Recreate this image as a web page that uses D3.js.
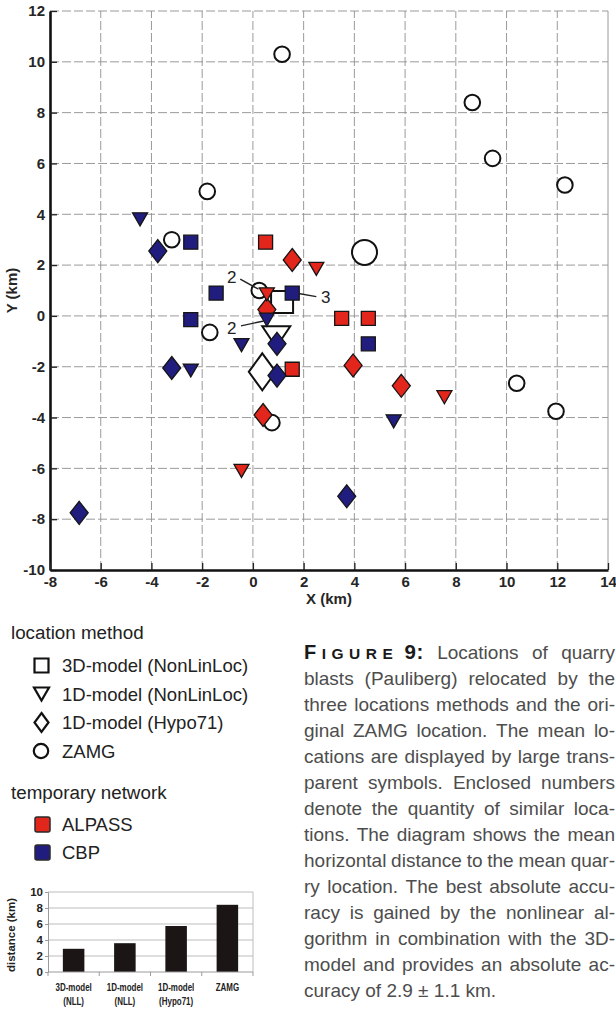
<!DOCTYPE html>
<html><head><meta charset="utf-8">
<script src="https://cdn.jsdelivr.net/npm/d3@7"></script>
<style>
body{margin:0;background:#fff;}
svg{display:block;font-family:"Liberation Sans",Arial,Helvetica,sans-serif;}
</style>
</head><body>
<svg id="c" width="616" height="1009"></svg>
<script>
// ---------------- data ----------------
const xTicks = [-8,-6,-4,-2,0,2,4,6,8,10,12,14];
const yTicks = [-10,-8,-6,-4,-2,0,2,4,6,8,10,12];

// ZAMG original locations
const zamg = [[1.15,10.3],[8.65,8.4],[9.45,6.2],[12.3,5.15],[-1.8,4.9],[-3.2,3.0],
              [0.25,1.0],[-1.7,-0.65],[0.75,-4.2],[10.4,-2.65],[11.95,-3.75]];
// 3D-model (NonLinLoc)
const nll3dAlpass = [[0.5,2.9],[3.5,-0.1],[4.55,-0.1],[1.55,-2.1]];
const nll3dCbp    = [[-2.45,2.9],[-1.45,0.9],[-2.45,-0.15],[1.55,0.9],[4.55,-1.1]];
// 1D-model (NonLinLoc)
const nll1dAlpass = [[2.5,1.85],[0.55,0.85],[7.55,-3.2],[-0.45,-6.1]];
const nll1dCbp    = [[-4.45,3.8],[0.55,-0.15],[-0.45,-1.15],[-2.45,-2.15],[5.55,-4.15]];
// 1D-model (Hypo71)
const hypoAlpass  = [[1.55,2.2],[0.55,0.25],[3.95,-1.95],[5.85,-2.75],[0.4,-3.9]];
const hypoCbp     = [[-3.75,2.55],[-3.2,-2.05],[0.95,-1.1],[0.95,-2.35],[-6.85,-7.75],[3.7,-7.1]];
// mean locations (large open symbols)
const meanSquare   = [1.15,0.55];
const meanTriangle = [0.92,-0.82];
const meanDiamond  = [0.37,-2.2];
const meanCircle   = [4.4,2.5];

// count annotations: label, label position, leader start, leader end (data units)
const annoText  = ["2","2","3"];
const annoAt    = [[-0.83,1.54],[-0.83,-0.47],[2.87,0.74]];
const annoFrom  = [[-0.5,1.45],[-0.47,-0.39],[2.5,0.76]];
const annoTo    = [[0.22,1.05],[0.43,-0.2],[1.8,0.88]];

const methodLabels  = ["3D-model (NonLinLoc)","1D-model (NonLinLoc)","1D-model (Hypo71)","ZAMG"];
const networkLabels = ["ALPASS","CBP"];

const barTop    = ["3D-model","1D-model","1D-model","ZAMG"];
const barBottom = ["(NLL)","(NLL)","(Hypo71)",""];
const barValues = [2.9,3.6,5.75,8.4];
const barTicks  = [0,2,4,6,8,10];

const captionHead = ["F","IGURE","9:"];
const captionLines = [
  "Locations of quarry",
  "blasts (Pauliberg) relocated by the",
  "three locations methods and the ori-",
  "ginal ZAMG location. The mean lo-",
  "cations are displayed by large trans-",
  "parent symbols. Enclosed numbers",
  "denote the quantity of similar loca-",
  "tions. The diagram shows the mean",
  "horizontal distance to the mean quar-",
  "ry location. The best absolute accu-",
  "racy is gained by the nonlinear al-",
  "gorithm in combination with the 3D-",
  "model and provides an absolute ac-",
  "curacy of 2.9 \u00b1 1.1 km."
];

// ---------------- drawing ----------------
const RED = "#e3261c", BLUE = "#211d7e";
const svg = d3.select("#c");
const plain = d => String(d);   // hyphen-minus as in the original

const X = d3.scaleLinear().domain([-8,14]).range([50,608]);
const Y = d3.scaleLinear().domain([-10,12]).range([570,11]);

const sq = s => `M${-s/2},${-s/2}h${s}v${s}h${-s}Z`;
const tri = (w,h) => `M${-w/2},${-h/2}L${w/2},${-h/2}L0,${h/2}Z`;
const dia = (w,h) => `M0,${-h/2}L${w/2},0L0,${h/2}L${-w/2},0Z`;

// grid
const grid = svg.append("g").attr("stroke","#8e8e8e").attr("stroke-width",0.9).attr("fill","none");
grid.selectAll("line.v").data(xTicks.filter(v=>v>-8 && v<14)).join("line")
  .attr("x1",d=>X(d)).attr("x2",d=>X(d)).attr("y1",Y(-10)).attr("y2",Y(12))
  .attr("stroke-dasharray","9,3");
grid.selectAll("line.h").data(yTicks.filter(v=>v>-10)).join("line")
  .attr("x1",X(-8)).attr("x2",X(14)).attr("y1",d=>Y(d)).attr("y2",d=>Y(d))
  .attr("stroke-dasharray","9,3");
grid.append("line").attr("x1",X(14)).attr("x2",X(14)).attr("y1",Y(-10)).attr("y2",Y(12));

// axes
const axL = svg.append("g").attr("transform",`translate(${X(-8)},0)`)
  .call(d3.axisLeft(Y).tickValues(yTicks).tickFormat(plain).tickSizeInner(-7).tickSizeOuter(0).tickPadding(5));
const axB = svg.append("g").attr("transform",`translate(0,${Y(-10)})`)
  .call(d3.axisBottom(X).tickValues(xTicks).tickFormat(plain).tickSizeInner(-7).tickSizeOuter(0).tickPadding(6));
[axL,axB].forEach(a=>{
  a.select(".domain").attr("stroke","#111").attr("stroke-width",2.6);
  a.selectAll(".tick line").attr("stroke","#222").attr("stroke-width",1.3);
  a.selectAll(".tick text").attr("font-size",15).attr("font-weight","bold").attr("fill","#262626")
    .attr("font-family","Liberation Sans, Arial, sans-serif");
});
svg.append("text").attr("transform",`translate(17,${(Y(-10)+Y(12))/2}) rotate(-90)`)
  .attr("text-anchor","middle").attr("font-size",15).attr("font-weight","bold").attr("fill","#262626").text("Y (km)");
svg.append("text").attr("x",(X(-8)+X(14))/2).attr("y",604)
  .attr("text-anchor","middle").attr("font-size",15).attr("font-weight","bold").attr("fill","#262626").text("X (km)");

const marks = svg.append("g");
const place = d => `translate(${X(d[0])},${Y(d[1])})`;

// mean locations (large, open)
const big = marks.append("g").attr("fill","#fff").attr("stroke","#111").attr("stroke-width",2);
big.append("path").attr("d",sq(22)).attr("transform",place(meanSquare));
big.append("path").attr("d",tri(28,21)).attr("transform",place(meanTriangle));
big.append("path").attr("d",dia(27,37)).attr("transform",place(meanDiamond));
big.append("circle").attr("r",12.5).attr("transform",place(meanCircle));

// ZAMG
marks.append("g").selectAll("circle").data(zamg).join("circle")
  .attr("transform",place).attr("r",7.8).attr("fill","#fff").attr("stroke","#111").attr("stroke-width",2);

function drawSet(data, pathD, color){
  marks.append("g").selectAll("path").data(data).join("path")
    .attr("d",pathD).attr("transform",place)
    .attr("fill",color).attr("stroke","#151515").attr("stroke-width",1.3);
}
drawSet(nll3dAlpass, sq(14), RED);
drawSet(nll3dCbp, sq(14), BLUE);
drawSet(hypoAlpass, dia(18,23), RED);
drawSet(hypoCbp, dia(18,23), BLUE);
drawSet(nll1dAlpass, tri(15,13), RED);
drawSet(nll1dCbp, tri(15,13), BLUE);

// annotations
const an = svg.append("g");
annoText.forEach((t,i)=>{
  an.append("line").attr("x1",X(annoFrom[i][0])).attr("y1",Y(annoFrom[i][1]))
    .attr("x2",X(annoTo[i][0])).attr("y2",Y(annoTo[i][1])).attr("stroke","#222").attr("stroke-width",1.4);
  an.append("text").attr("x",X(annoAt[i][0])).attr("y",Y(annoAt[i][1])).attr("dy","0.36em")
    .attr("text-anchor","middle").attr("font-size",17).attr("fill","#222").text(t);
});

// ---------------- legend ----------------
const lg = svg.append("g").attr("fill","#222");
lg.append("text").attr("x",11).attr("y",639).attr("font-size",18.8).text("location method");
const methodIcons = [sq(14), tri(15,13), dia(14,19), null];
methodLabels.forEach((t,i)=>{
  const by = 672 + i*28.5, cy = by - 6.5;
  if(methodIcons[i]) lg.append("path").attr("d",methodIcons[i]).attr("transform",`translate(41.5,${cy})`)
      .attr("fill","#fff").attr("stroke","#111").attr("stroke-width",2.2);
  else lg.append("circle").attr("cx",41).attr("cy",cy).attr("r",7.2).attr("fill","#fff").attr("stroke","#111").attr("stroke-width",2.2);
  lg.append("text").attr("x",62).attr("y",by).attr("font-size",18.5).text(t);
});
lg.append("text").attr("x",11).attr("y",799).attr("font-size",18.8).text("temporary network");
const netColors = [RED, BLUE];
networkLabels.forEach((t,i)=>{
  const by = 831 + i*28, cy = by - 6.5;
  lg.append("rect").attr("x",35).attr("y",cy-7.5).attr("width",15).attr("height",15).attr("rx",2)
    .attr("fill",netColors[i]).attr("stroke","#2a2a2a").attr("stroke-width",1.5);
  lg.append("text").attr("x",62).attr("y",by).attr("font-size",18.5).text(t);
});

// ---------------- bar chart ----------------
const BX = d3.scaleBand().domain(d3.range(barValues.length)).range([48,253]).paddingInner(0.58).paddingOuter(0.29);
const BY = d3.scaleLinear().domain([0,10]).range([972,892]);
const bc = svg.append("g");
bc.selectAll("line.g").data(barTicks.filter(v=>v>0)).join("line")
  .attr("x1",48).attr("x2",253).attr("y1",d=>BY(d)).attr("y2",d=>BY(d)).attr("stroke","#bdbdbd").attr("stroke-width",1);
bc.append("line").attr("x1",253).attr("x2",253).attr("y1",BY(0)).attr("y2",BY(10)).attr("stroke","#bdbdbd");
bc.selectAll("rect").data(barValues).join("rect")
  .attr("x",(d,i)=>BX(i)).attr("width",BX.bandwidth()).attr("y",d=>BY(d)).attr("height",d=>BY(0)-BY(d)).attr("fill","#1b1515");
const bl = bc.append("g").attr("transform","translate(48,0)")
  .call(d3.axisLeft(BY).tickValues(barTicks).tickFormat(plain).tickSize(3).tickPadding(2));
bl.select(".domain").attr("stroke","#9a9a9a");
bl.selectAll(".tick line").attr("stroke","#9a9a9a");
bl.selectAll(".tick text").attr("font-size",11.5).attr("font-weight","bold").attr("fill","#222")
  .attr("font-family","Liberation Sans, Arial, sans-serif");
bc.append("line").attr("x1",48).attr("x2",253).attr("y1",BY(0)).attr("y2",BY(0)).attr("stroke","#9a9a9a");
const bounds = d3.range(barValues.length+1).map(i=> i<barValues.length ? BX(i)-BX.step()*BX.paddingInner()/2 : 253);
bc.selectAll("line.bt").data(bounds).join("line")
  .attr("x1",d=>Math.max(48,d)).attr("x2",d=>Math.max(48,d)).attr("y1",BY(0)).attr("y2",BY(0)+4).attr("stroke","#9a9a9a");
bc.append("text").attr("transform","translate(15,935) rotate(-90)").attr("text-anchor","middle")
  .attr("font-size",11.5).attr("font-weight","bold").attr("fill","#222").text("distance (km)");
barTop.forEach((t,i)=>{
  const cx = BX(i)+BX.bandwidth()/2;
  const g = bc.append("g").attr("transform",`translate(${cx},0) scale(0.76,1)`)
    .attr("font-size",10.5).attr("font-weight","bold").attr("fill","#222").attr("text-anchor","middle");
  g.append("text").attr("y",991).text(t);
  if(barBottom[i]) g.append("text").attr("y",1005).text(barBottom[i]);
});

// ---------------- caption ----------------
const capX0 = 304, capX1 = 615, capY0 = 659, capLH = 26, capFS = 19;
const cap = svg.append("g").attr("font-size",capFS).attr("fill","#4d4d4d");
const spaceW = (()=>{const t=cap.append("text").text("a a");const w1=t.node().getComputedTextLength();t.text("aa");const w2=t.node().getComputedTextLength();t.remove();return w1-w2;})();
captionLines.forEach((line,i)=>{
  const y = capY0 + i*capLH;
  const nodes = [];
  if(i===0){
    const h = cap.append("text").attr("y",y).attr("fill","#1a1a1a").attr("font-weight","bold");
    h.append("tspan").attr("font-size",20).attr("letter-spacing",5.5).text(captionHead[0]);
    h.append("tspan").attr("font-size",15.5).attr("letter-spacing",5.5).text(captionHead[1]);
    h.append("tspan").attr("font-size",20.5).attr("letter-spacing",0.5).text(" "+captionHead[2]);
    nodes.push(h);
  }
  line.split(" ").forEach(w=>nodes.push(cap.append("text").attr("y",y).text(w)));
  const widths = nodes.map(n=>n.node().getComputedTextLength());
  const total = d3.sum(widths);
  const gaps = nodes.length-1;
  const last = i===captionLines.length-1;
  const gap = (!last && gaps>0) ? (capX1-capX0-total)/gaps : spaceW;
  let x = capX0;
  nodes.forEach((n,k)=>{n.attr("x",x); x += widths[k]+gap;});
});
</script>
</body></html>
